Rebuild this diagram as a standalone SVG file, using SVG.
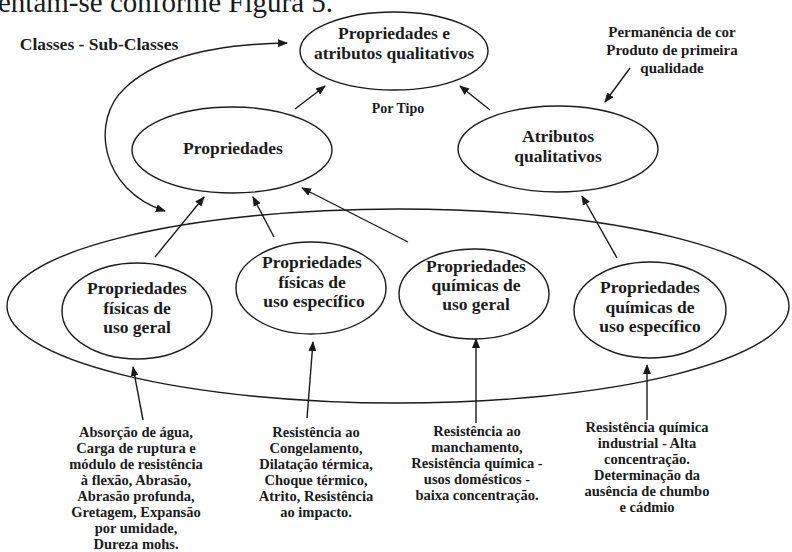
<svg xmlns="http://www.w3.org/2000/svg" width="792" height="552" viewBox="0 0 792 552">
<style>
text{font-family:"Liberation Serif","Times New Roman",serif;fill:#1a1a1a;text-anchor:middle}
.n{font-size:17.5px;font-weight:bold}
.s{font-size:14.5px;font-weight:bold}
.e{fill:none;stroke:#1a1a1a;stroke-width:1.4}
.c{fill:none;stroke:#1a1a1a;stroke-width:1.4;marker-end:url(#ah)}
</style>
<defs>
<marker id="ah" viewBox="0 0 10 8" refX="9" refY="4" markerWidth="10" markerHeight="8" markerUnits="userSpaceOnUse" orient="auto-start-reverse">
<path d="M0,0 L10,4 L0,8 Z" fill="#1a1a1a"/>
</marker>
</defs>
<rect width="792" height="552" fill="#fff"/>
<text x="-2" y="12" style="font-size:29px;text-anchor:start;font-weight:normal">entam-se conforme Figura 5.</text>

<g id="outer">
<ellipse class="e" cx="398" cy="306" rx="391" ry="97"/>
</g>
<g id="top">
<ellipse class="e" cx="394" cy="51" rx="94" ry="39"/>
<text class="n" x="394" y="39">Propriedades e</text>
<text class="n" x="394" y="59">atributos qualitativos</text>
</g>
<g id="propriedades">
<ellipse class="e" cx="232" cy="150" rx="100" ry="43"/>
<text class="n" x="233" y="154">Propriedades</text>
</g>
<g id="atributos">
<ellipse class="e" cx="558" cy="149" rx="100" ry="43"/>
<text class="n" x="558" y="142">Atributos</text>
<text class="n" x="558" y="162">qualitativos</text>
</g>
<g id="fis-geral">
<ellipse class="e" cx="137" cy="311" rx="75" ry="48"/>
<text class="n" x="137" y="294">Propriedades</text>
<text class="n" x="137" y="314">físicas de</text>
<text class="n" x="137" y="333">uso geral</text>
</g>
<g id="fis-esp">
<ellipse class="e" cx="311" cy="288" rx="75" ry="46"/>
<text class="n" x="312" y="268">Propriedades</text>
<text class="n" x="312" y="288">físicas de</text>
<text class="n" x="314" y="307">uso específico</text>
</g>
<g id="qui-geral">
<ellipse class="e" cx="474" cy="294" rx="75" ry="45"/>
<text class="n" x="476" y="272">Propriedades</text>
<text class="n" x="476" y="291">químicas de</text>
<text class="n" x="476" y="310">uso geral</text>
</g>
<g id="qui-esp">
<ellipse class="e" cx="650" cy="310" rx="76" ry="48"/>
<text class="n" x="650" y="293">Propriedades</text>
<text class="n" x="650" y="313">químicas de</text>
<text class="n" x="650" y="332">uso específico</text>
</g>

<g id="labels">
<text class="n" x="99" y="50">Classes - Sub-Classes</text>
<text class="s" x="398" y="113" style="font-size:14px">Por Tipo</text>
<text class="s" x="672" y="37" style="font-size:15px">Permanência de cor</text>
<text class="s" x="672" y="55" style="font-size:15px">Produto de primeira</text>
<text class="s" x="672" y="73" style="font-size:15px">qualidade</text>
</g>

<g id="notes">
<text class="s" x="136" y="437">Absorção de água,</text>
<text class="s" x="136" y="453">Carga de ruptura e</text>
<text class="s" x="136" y="469">módulo de resistência</text>
<text class="s" x="136" y="485">à flexão, Abrasão,</text>
<text class="s" x="136" y="501">Abrasão profunda,</text>
<text class="s" x="136" y="517">Gretagem, Expansão</text>
<text class="s" x="136" y="533">por umidade,</text>
<text class="s" x="136" y="549">Dureza mohs.</text>

<text class="s" x="316" y="437">Resistência ao</text>
<text class="s" x="316" y="453">Congelamento,</text>
<text class="s" x="316" y="469">Dilatação térmica,</text>
<text class="s" x="316" y="485">Choque térmico,</text>
<text class="s" x="316" y="501">Atrito, Resistência</text>
<text class="s" x="316" y="517">ao impacto.</text>

<text class="s" x="477" y="436">Resistência ao</text>
<text class="s" x="477" y="452">manchamento,</text>
<text class="s" x="477" y="468">Resistência química -</text>
<text class="s" x="477" y="484">usos domésticos -</text>
<text class="s" x="477" y="500">baixa concentração.</text>

<text class="s" x="647" y="432">Resistência química</text>
<text class="s" x="647" y="448">industrial - Alta</text>
<text class="s" x="647" y="464">concentração.</text>
<text class="s" x="647" y="480">Determinação da</text>
<text class="s" x="647" y="496">ausência de chumbo</text>
<text class="s" x="647" y="512">e cádmio</text>
</g>

<g id="connectors">
<path class="c" d="M165,211 C100,190 90,120 125,88 C160,55 220,44 287,43" style="marker-start:url(#ah)"/>
<line class="c" x1="295" y1="109" x2="325" y2="86"/>
<line class="c" x1="490" y1="110" x2="460" y2="86"/>
<line class="c" x1="630" y1="68" x2="605" y2="102"/>
<line class="c" x1="155" y1="257" x2="204" y2="197"/>
<line class="c" x1="274" y1="237" x2="253" y2="197"/>
<line class="c" x1="408" y1="242" x2="302" y2="188"/>
<line class="c" x1="617" y1="258" x2="582" y2="196"/>
<line class="c" x1="143" y1="420" x2="133" y2="367"/>
<line class="c" x1="307" y1="418" x2="313" y2="342"/>
<line class="c" x1="476" y1="423" x2="476" y2="339"/>
<line class="c" x1="647" y1="420" x2="647" y2="365"/>
</g>
</svg>
